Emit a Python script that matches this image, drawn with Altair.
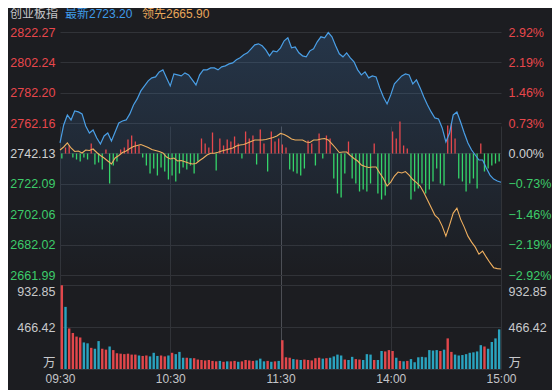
import altair as alt
import pandas as pd

# ---------------- data ----------------
PREV_CLOSE = 2742.13
PRICE_TICKS = [2822.27, 2802.24, 2782.20, 2762.16, 2742.13, 2722.09, 2702.06, 2682.02, 2661.99]
PCT_TICKS = [2.92, 2.19, 1.46, 0.73, 0.00, -0.73, -1.46, -2.19, -2.92]
VOL_TICKS = [0, 466.42, 932.85]
TIME_TICKS = [0, 60, 120, 180, 240]
TIME_LABELS = ["09:30", "10:30", "11:30", "14:00", "15:00"]

LINE_MIN = list(range(0, 241, 2))      # trading minutes since 09:30
BAR_MIN = list(range(1, 240, 2))

PRICE = [2749.07, 2760.96, 2767.57, 2764.26, 2770.21, 2769.55, 2768.23, 2760.30, 2755.67, 2757.66,
         2752.37, 2748.41, 2753.69, 2755.67, 2750.39, 2756.34, 2762.28, 2763.60, 2764.26, 2768.23,
         2774.17, 2778.14, 2783.42, 2786.73, 2790.03, 2792.01, 2792.67, 2795.98, 2797.30, 2792.01,
         2786.73, 2794.66, 2793.99, 2793.33, 2795.32, 2793.99, 2790.69, 2787.39, 2793.99, 2797.30,
         2797.30, 2798.62, 2798.62, 2797.30, 2799.28, 2799.94, 2801.26, 2801.92, 2803.91, 2805.23,
         2807.21, 2808.53, 2811.17, 2813.82, 2814.48, 2813.16, 2810.51, 2806.55, 2809.85, 2809.19,
         2811.83, 2816.46, 2818.44, 2811.83, 2812.49, 2808.53, 2806.55, 2805.89, 2809.85, 2811.17,
         2815.80, 2819.10, 2818.44, 2821.90, 2819.10, 2813.16, 2807.87, 2805.89, 2808.53, 2805.23,
         2802.58, 2797.30, 2793.99, 2795.98, 2792.01, 2793.33, 2792.67, 2785.41, 2779.46, 2774.83,
         2780.78, 2788.05, 2790.69, 2793.33, 2794.66, 2793.99, 2788.05, 2790.69, 2785.41, 2779.46,
         2774.17, 2769.55, 2765.58, 2764.92, 2758.98, 2749.73, 2755.67, 2767.57, 2769.55, 2762.94,
         2755.67, 2749.07, 2744.44, 2741.14, 2737.84, 2737.84, 2732.55, 2727.92, 2725.28, 2723.96,
         2723.20]

LEAD = [2744.44, 2746.42, 2749.07, 2745.76, 2743.45, 2743.78, 2742.46, 2744.44, 2744.11, 2745.10,
        2742.79, 2740.81, 2739.16, 2737.17, 2735.19, 2739.16, 2740.81, 2742.79, 2743.78, 2745.43,
        2746.75, 2747.42, 2748.08, 2747.09, 2746.09, 2744.77, 2744.11, 2743.45, 2742.46, 2739.82,
        2738.50, 2739.16, 2737.17, 2737.51, 2736.71, 2735.85, 2735.19, 2735.52, 2737.51, 2739.16,
        2741.14, 2742.26, 2742.26, 2742.92, 2743.78, 2744.44, 2745.10, 2745.76, 2747.09, 2747.75,
        2748.08, 2749.07, 2750.06, 2751.05, 2751.05, 2751.05, 2751.38, 2752.04, 2752.70, 2753.69,
        2755.34, 2754.68, 2753.36, 2751.71, 2751.05, 2751.05, 2751.05, 2749.73, 2749.40, 2751.05,
        2751.05, 2751.71, 2752.04, 2751.05, 2748.41, 2745.76, 2742.79, 2743.12, 2743.12, 2740.81,
        2738.83, 2737.17, 2734.53, 2733.54, 2732.88, 2733.21, 2733.21, 2729.25, 2725.61, 2720.66,
        2723.30, 2727.26, 2729.91, 2729.25, 2730.24, 2727.92, 2724.95, 2722.97, 2720.66, 2716.36,
        2711.41, 2706.45, 2701.50, 2699.18, 2694.23, 2687.62, 2694.89, 2702.82, 2706.12, 2698.85,
        2693.57, 2687.62, 2683.66, 2680.35, 2675.73, 2677.71, 2673.75, 2670.11, 2666.81, 2666.20,
        2665.90]

FORCE = [-5, 6, 8, -4, -6, -8, -4, -6, 10, -11,
         -9, -16, 4, -30, -12, -8, 4, 6, 14, 18,
         12, 8, -4, -12, -20, -15, -22, -14, -18, -26,
         -22, -28, -20, -14, -16, -12, -20, -8, 15, 10,
         6, 21, -17, 15, 8, 14, 12, 17, 10, -5,
         22, 15, 18, -11, 24, 10, -18, 22, 12, 15,
         9, 6, -16, -18, -20, -22, -15, 13, 10, -12,
         20, -5, 18, 15, -25, -40, -44, -20, 12, -25,
         -30, -38, -36, -38, -30, 10, -40, -46, -42, -30,
         22, 15, 32, 8, 5, -46, -38, -35, -30, -40,
         -36, -28, -15, -30, -32, 28, 30, 15, -25, -28,
         -38, -30, -25, -35, 10, -18, -15, -12, -10, -8]

VOLUME = [930, 690, 450, 400, 360, 350, 295, 285, 235, 225,
          310, 225, 215, 250, 210, 175, 170, 165, 170, 160,
          160, 150, 145, 150, 140, 180, 145, 150, 140, 150,
          180, 165, 190, 125, 125, 120, 120, 105, 100, 95,
          100, 90, 85, 90, 80, 85, 85, 90, 80, 85,
          100, 95, 90, 95, 115, 85, 90, 80, 85, 90,
          320, 130, 125, 110, 105, 100, 105, 100, 95, 120,
          125, 115, 120, 125, 140, 160, 150, 105, 100, 135,
          110, 105, 100, 165, 160, 100, 100, 200, 195, 210,
          200, 125, 90, 85, 90, 110, 75, 130, 135, 130,
          210, 205, 210, 200, 215, 340, 190, 160, 150, 155,
          165, 180, 185, 195, 265, 250, 225, 300, 340, 440]

VOL_UP = [1, 0, 1, 1, 1, 1, 0, 0, 1, 0,
          0, 1, 1, 0, 1, 1, 1, 1, 1, 1,
          1, 0, 1, 1, 0, 0, 0, 1, 1, 0,
          1, 0, 0, 0, 1, 0, 1, 1, 1, 1,
          1, 1, 1, 0, 1, 0, 1, 1, 0, 1,
          1, 1, 1, 0, 0, 0, 1, 0, 1, 0,
          1, 1, 1, 0, 1, 0, 1, 1, 1, 1,
          1, 0, 1, 0, 0, 0, 0, 1, 0, 0,
          1, 1, 0, 0, 0, 1, 0, 0, 1, 1,
          1, 0, 1, 0, 1, 0, 0, 0, 0, 0,
          0, 0, 0, 1, 0, 1, 1, 0, 0, 0,
          0, 0, 0, 0, 0, 1, 0, 0, 0, 0]

TITLE = "创业板指"
LAST_LABEL = "最新"
LEAD_LABEL = "领先"

# ---------------- style ----------------
BG = "#1c1d21"
GRID = "#313338"
MID_GRID = "#4c4e54"
RED_T = "#e8474c"
GREEN_T = "#3ccb6a"
NEUTRAL = "#cfd0d2"
BLUE = "#4a9fe6"
ORANGE = "#efaf5f"
FRED = "#e5484d"
FGREEN = "#35d46a"
VRED = "#e2474b"
VBLUE = "#2aa3bf"
FONT = "Liberation Sans, Noto Sans CJK SC, sans-serif"

W = 441
TOP_H = 243
GAP = 10
VOL_H = 84
H = TOP_H + GAP + VOL_H

line_df = pd.DataFrame({"t": LINE_MIN, "price": PRICE, "lead": LEAD})
bar_df = pd.DataFrame({"t": BAR_MIN, "force": FORCE, "vol": VOLUME, "up": VOL_UP})

time_expr = " : ".join(
    f"datum.value == {v} ? '{s}'" for v, s in zip(TIME_TICKS, TIME_LABELS)
) + " : ''"

x_axis = alt.Axis(
    values=TIME_TICKS, labelExpr=time_expr, title=None, grid=True,
    gridColor={"condition": {"test": f"datum.value == {TIME_TICKS[2]}", "value": MID_GRID}, "value": GRID},
    domain=False, ticks=False, labelFlush=False, labelPadding=4,
    labelColor="#c4c5c8", labelFontSize=12, labelFont=FONT,
)
X = alt.X("t:Q", scale=alt.Scale(domain=[0, 240], nice=False, zero=False), axis=x_axis)

price_scale = alt.Scale(domain=[PRICE_TICKS[-1], PRICE_TICKS[0]], range=[TOP_H, 0], nice=False, zero=False)
half = TOP_H / 2
force_scale = alt.Scale(domain=[-half, half], range=[TOP_H, 0], nice=False)
pct_scale = alt.Scale(domain=[PCT_TICKS[-1], PCT_TICKS[0]], range=[TOP_H, 0], nice=False, zero=False)
vol_scale = alt.Scale(domain=[0, VOL_TICKS[-1]], range=[H, H - VOL_H], nice=False)

price_color = {
    "condition": [
        {"test": f"datum.value > {PREV_CLOSE} + 0.01", "value": RED_T},
        {"test": f"datum.value < {PREV_CLOSE} - 0.01", "value": GREEN_T},
    ],
    "value": NEUTRAL,
}
pct_color = {
    "condition": [
        {"test": "datum.value > 0.001", "value": RED_T},
        {"test": "datum.value < -0.001", "value": GREEN_T},
    ],
    "value": NEUTRAL,
}

price_axis = alt.Axis(
    orient="left", values=PRICE_TICKS, format=".2f", title=None, grid=True, gridColor=GRID,
    domain=False, ticks=False, labelPadding=5, labelColor=price_color,
    labelFontSize=12.5, labelFont=FONT,
)
pct_axis = alt.Axis(
    orient="right", values=PCT_TICKS, labelExpr="format(datum.value, '.2f') + '%'", title=None,
    grid=False, domain=False, ticks=False, labelPadding=7, labelColor=pct_color,
    labelFontSize=12.5, labelFont=FONT,
)
vol_expr = "datum.value == 0 ? '万' : format(datum.value, '.2f')"
vol_axis_l = alt.Axis(
    orient="left", values=VOL_TICKS, labelExpr=vol_expr, title=None, grid=True, gridColor=GRID,
    domain=False, ticks=False, labelPadding=5, labelFlush=True, labelColor="#c8c9cc",
    labelFontSize=12.5, labelFont=FONT,
)
vol_axis_r = alt.Axis(
    orient="right", values=VOL_TICKS, labelExpr=vol_expr, title=None, grid=False,
    domain=False, ticks=False, labelPadding=7, labelFlush=True, labelColor="#c8c9cc",
    labelFontSize=12.5, labelFont=FONT,
)

gradient = alt.Gradient(
    gradient="linear",
    stops=[alt.GradientStop(color="rgba(70,140,215,0.22)", offset=0),
           alt.GradientStop(color="rgba(70,140,215,0.0)", offset=1)],
    x1=1, x2=1, y1=0, y2=1,
)

area = alt.Chart(line_df).mark_area(color=gradient).encode(
    x=X,
    y=alt.Y("price:Q", scale=price_scale, axis=None),
    y2=alt.datum(PRICE_TICKS[-1]),
)

force = alt.Chart(bar_df).mark_rule(strokeWidth=1.3).encode(
    x=X,
    y=alt.Y("force:Q", scale=force_scale, axis=None),
    y2=alt.datum(0),
    color=alt.condition("datum.force >= 0", alt.value(FRED), alt.value(FGREEN)),
)

lead_line = alt.Chart(line_df).mark_line(color=ORANGE, strokeWidth=1.1).encode(
    x=X, y=alt.Y("lead:Q", scale=price_scale, axis=None),
)

price_line = alt.Chart(line_df).mark_line(color=BLUE, strokeWidth=1.2).encode(
    x=X, y=alt.Y("price:Q", scale=price_scale, axis=price_axis),
)

pct_layer = alt.Chart(pd.DataFrame({"pct": PCT_TICKS})).mark_point(opacity=0).encode(
    y=alt.Y("pct:Q", scale=pct_scale, axis=pct_axis),
)

vol = alt.Chart(bar_df).mark_rule(strokeWidth=2.4).encode(
    x=X,
    y=alt.Y("vol:Q", scale=vol_scale, axis=vol_axis_l),
    y2=alt.datum(0),
    color=alt.condition("datum.up == 1", alt.value(VRED), alt.value(VBLUE)),
)

vol_r = alt.Chart(pd.DataFrame({"v": VOL_TICKS})).mark_point(opacity=0).encode(
    y=alt.Y("v:Q", scale=vol_scale, axis=vol_axis_r),
)

header_df = pd.DataFrame({
    "s": [TITLE, f"{LAST_LABEL}{PRICE[-1]:.2f}", f"{LEAD_LABEL}{LEAD[-1]:.2f}"],
})
h1 = alt.Chart(header_df.iloc[[0]]).mark_text(
    align="left", baseline="middle", color="#c6c7ca", fontSize=12, font=FONT
).encode(x=alt.value(-50), y=alt.value(-18), text="s:N")
h2 = alt.Chart(header_df.iloc[[1]]).mark_text(
    align="left", baseline="middle", color="#3f9be8", fontSize=12, font=FONT
).encode(x=alt.value(5), y=alt.value(-18), text="s:N")
h3 = alt.Chart(header_df.iloc[[2]]).mark_text(
    align="left", baseline="middle", color="#e9a75a", fontSize=12, font=FONT
).encode(x=alt.value(82), y=alt.value(-18), text="s:N")

chart = alt.layer(
    area, force, lead_line, price_line, pct_layer, vol, vol_r, h1, h2, h3
).resolve_scale(y="independent").properties(
    width=W, height=H,
    autosize=alt.AutoSizeParams(type="none"),
    padding={"left": 52, "top": 24, "right": 51, "bottom": 30},
    background=BG,
).configure_view(stroke=None)

chart.save("out.html", embed_options={"renderer": "svg", "actions": False})
